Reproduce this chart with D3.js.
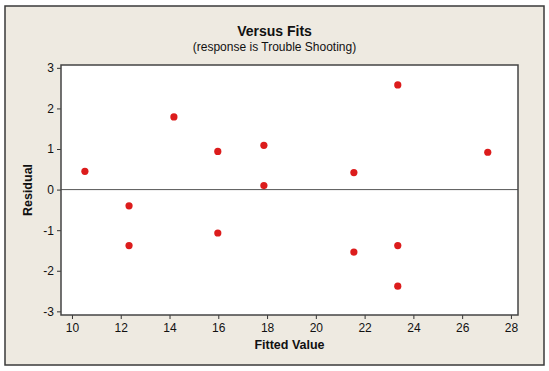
<!DOCTYPE html>
<html>
<head>
<meta charset="utf-8">
<script src="https://cdn.jsdelivr.net/npm/d3@7"></script>
<style>
  body { margin: 0; background: #fff; }
  text { font-family: Tahoma, "Liberation Sans", Arial, sans-serif; fill: #111; }
</style>
</head>
<body>
<svg id="plot"></svg>
<script>
// Fitted values and residuals
const fitted   = [10.53, 12.34, 12.34, 14.18, 15.98, 15.98, 17.87, 17.87, 21.56, 21.56, 23.36, 23.36, 23.36, 27.05];
const residual = [0.45, -0.40, -1.38, 1.79, 0.94, -1.07, 1.09, 0.10, 0.42, -1.54, 2.58, -1.38, -2.38, 0.92];

const xTicks = [10, 12, 14, 16, 18, 20, 22, 24, 26, 28];
const yTicks = [-3, -2, -1, 0, 1, 2, 3];

const title = "Versus Fits";
const subtitle = "(response is Trouble Shooting)";
const xLabel = "Fitted Value";
const yLabel = "Residual";

//Sizes
const width = 549;
const height = 371;
const plotLeft = 61, plotRight = 518, plotTop = 65, plotBottom = 315;

const svg = d3.select('#plot')
    .attr('width', width)
    .attr('height', height);

//Outer frame
svg.append('rect')
    .attr('x', 5)
    .attr('y', 6)
    .attr('width', 539)
    .attr('height', 359)
    .attr('fill', '#eeeae1')
    .attr('stroke', '#3a3a3a')
    .attr('stroke-width', 1.5);

//Scales
const x = d3.scaleLinear().domain([9.55, 28.29]).range([plotLeft, plotRight]);
const y = d3.scaleLinear().domain([-3.09, 3.07]).range([plotBottom, plotTop]);

//Plot area
svg.append('rect')
    .attr('x', plotLeft)
    .attr('y', plotTop)
    .attr('width', plotRight - plotLeft)
    .attr('height', plotBottom - plotTop)
    .attr('fill', '#fff');

//Reference line at zero
svg.append('line')
    .attr('x1', plotLeft)
    .attr('x2', plotRight)
    .attr('y1', y(0))
    .attr('y2', y(0))
    .attr('stroke', '#555')
    .attr('stroke-width', 1);

//Axes
const xAxis = svg.append('g')
    .attr('transform', `translate(0,${plotBottom})`)
    .call(d3.axisBottom(x).tickValues(xTicks).tickSize(4).tickPadding(4).tickFormat(d => String(d)));

const yAxis = svg.append('g')
    .attr('transform', `translate(${plotLeft},0)`)
    .call(d3.axisLeft(y).tickValues(yTicks).tickSize(4).tickPadding(3).tickFormat(d => String(d)));

[xAxis, yAxis].forEach(a => {
    a.select('.domain').remove();
    a.selectAll('line').attr('stroke', '#333');
    a.selectAll('text')
        .attr('font-size', '12px')
        .attr('font-family', 'Tahoma, "Liberation Sans", Arial, sans-serif')
        .attr('fill', '#111');
});

//Plot border
svg.append('rect')
    .attr('x', plotLeft)
    .attr('y', plotTop)
    .attr('width', plotRight - plotLeft)
    .attr('height', plotBottom - plotTop)
    .attr('fill', 'none')
    .attr('stroke', '#444')
    .attr('stroke-width', 1.5);

//Points
svg.selectAll('.pt')
    .data(fitted.map((f, i) => ({f: f, r: residual[i]})))
    .enter()
    .append('circle')
    .attr('class', 'pt')
    .attr('cx', d => x(d.f))
    .attr('cy', d => y(d.r))
    .attr('r', 3.6)
    .attr('fill', '#dc1c1c');

//Titles
svg.append('text')
    .attr('x', 274.5)
    .attr('y', 36)
    .attr('text-anchor', 'middle')
    .attr('font-size', '14px')
    .attr('font-weight', 'bold')
    .text(title);

svg.append('text')
    .attr('x', 274.5)
    .attr('y', 51)
    .attr('text-anchor', 'middle')
    .attr('font-size', '12px')
    .text(subtitle);

svg.append('text')
    .attr('x', (plotLeft + plotRight) / 2)
    .attr('y', 348.5)
    .attr('text-anchor', 'middle')
    .attr('font-size', '12.5px')
    .attr('font-weight', 'bold')
    .text(xLabel);

svg.append('text')
    .attr('transform', `translate(32,${(plotTop + plotBottom) / 2}) rotate(-90)`)
    .attr('text-anchor', 'middle')
    .attr('font-size', '12.5px')
    .attr('font-weight', 'bold')
    .text(yLabel);
</script>
</body>
</html>
